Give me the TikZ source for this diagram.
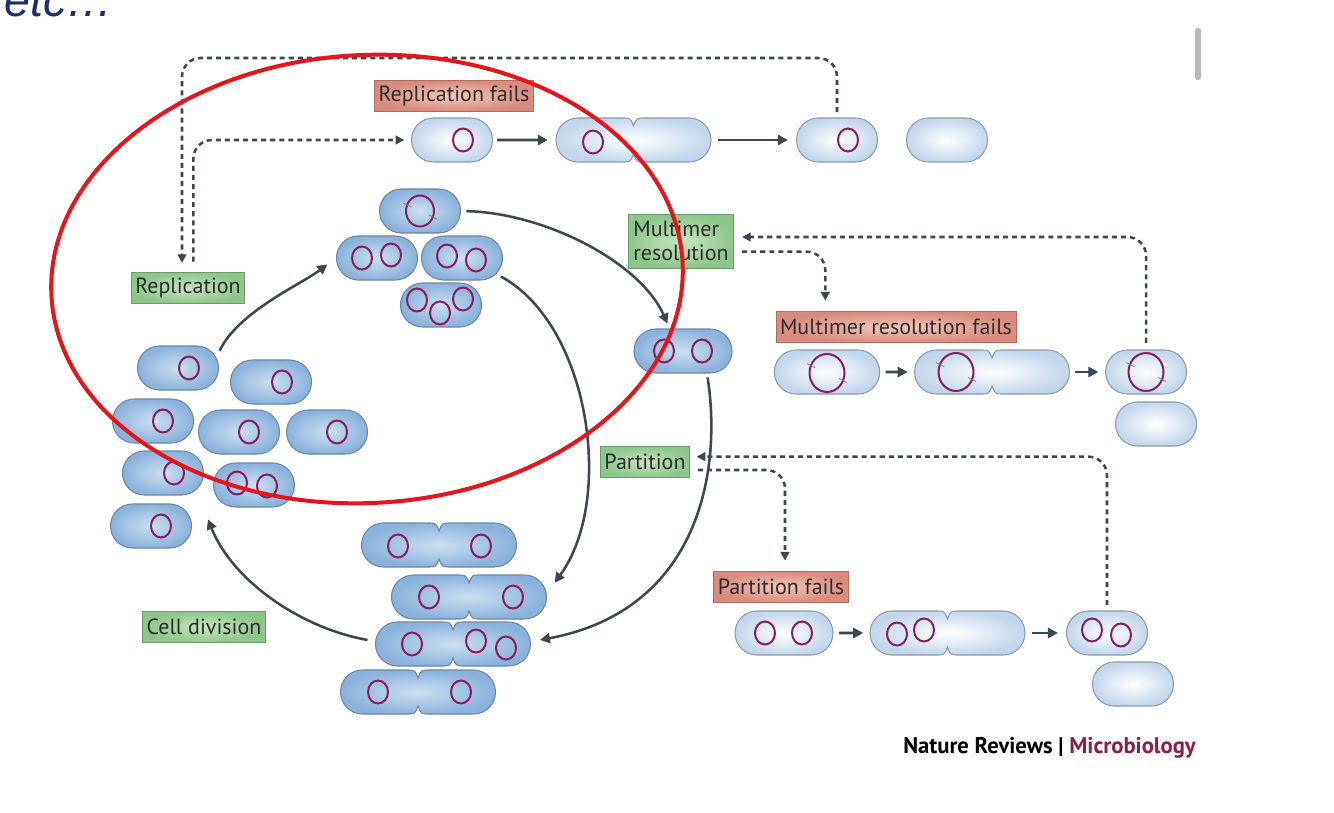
\documentclass[tikz,border=0pt]{standalone}
\usepackage{fontspec}
\setmainfont{PT Sans}
\newfontfamily\slidefont{Liberation Sans}
\usetikzlibrary{shapes.misc,arrows.meta}

\definecolor{cellout}{HTML}{8BB2DB}
\definecolor{cellin}{HTML}{CCE0F3}
\definecolor{cellline}{HTML}{6C87A3}
\definecolor{paleout}{HTML}{C3D7EC}
\definecolor{paleline}{HTML}{8D9BAA}
\definecolor{plas}{HTML}{8A1D5C}
\definecolor{arrc}{HTML}{394852}
\definecolor{gout}{HTML}{8DC68B}
\definecolor{gin}{HTML}{C9E5C3}
\definecolor{gline}{HTML}{6E9A6B}
\definecolor{rout}{HTML}{D98B7D}
\definecolor{rin}{HTML}{F4C8BA}
\definecolor{rline}{HTML}{AE6C5F}
\definecolor{labtext}{HTML}{2B2B2B}
\definecolor{journal}{HTML}{8C1D4F}
\definecolor{slideblue}{HTML}{1F2E6E}
\definecolor{markred}{HTML}{E8141B}

% dividing cell: name, x, y, look
\newcommand{\divcell}[4]{%
  \begin{scope}[shift={(#2,-#3)}]
    \shadedraw[#4] (0,14) .. controls (-3,22) .. (-12,22) -- (-55.5,22)
      arc[start angle=90,end angle=270,radius=22] -- (-12,-22)
      .. controls (-3,-22) .. (0,-14) .. controls (3,-22) .. (12,-22)
      -- (55.5,-22) arc[start angle=-90,end angle=90,radius=22]
      -- (12,22) .. controls (3,22) .. (0,14) -- cycle;
  \end{scope}
  \node[minimum width=116pt,minimum height=33pt,inner sep=0pt] (#1) at (#2,-#3) {};}

\begin{document}
\begin{tikzpicture}[x=0.75pt,y=0.75pt,
  dcell/.style={rounded rectangle,draw=cellline,line width=0.8pt,inner color=cellin,outer color=cellout,minimum width=60.75pt,minimum height=33pt,inner sep=0pt},
  lcell/.style={dcell,draw=paleline,inner color=white,outer color=paleout},
  dpath/.style={draw=cellline,line width=0.8pt,inner color=cellin,outer color=cellout},
  lpath/.style={draw=paleline,line width=0.8pt,inner color=white,outer color=paleout},
  plasmid/.style={draw=plas,line width=1.5pt},
  tick/.style={draw=gray,line width=0.6pt},
  lbl/.style={draw,line width=0.6pt,minimum height=23pt,inner xsep=3pt,inner ysep=2pt,text=labtext,font=\fontsize{16.5}{18}\selectfont},
  gbox/.style={lbl,draw=gline,inner color=gin,outer color=gout},
  rbox/.style={lbl,draw=rline,inner color=rin,outer color=rout},
  arr/.style={draw=arrc,line width=1.9pt,-{Triangle[length=7.5pt,width=7.5pt]}},
  dasharr/.style={draw=arrc,line width=1.9pt,dash pattern=on 3.8pt off 3pt,rounded corners=14pt,-{Triangle[length=6.5pt,width=6.5pt]}}]

\fill[white] (0,0) rectangle (1334,-813);
\useasboundingbox (0,0) rectangle (1334,-813);

% slide remains
\node[anchor=base west,inner sep=0pt,text=slideblue,font=\slidefont\itshape\fontsize{35}{40}\selectfont] (etc) at (4,-17) {etc…};
\fill[gray!55,rounded corners=2pt] (1195,-28) rectangle (1201,-80);

% labels
\node[rbox] (repfail) at (454,-96) {Replication fails};
\node[gbox] (rep) at (188,-288) {Replication};
\node[gbox,align=left,minimum width=79pt,minimum height=40.5pt,inner xsep=2pt] (mult) at (681,-241) {Multimer\\resolution};
\node[rbox] (multfail) at (896,-327) {Multimer resolution fails};
\node[gbox] (part) at (645,-462) {Partition};
\node[rbox] (partfail) at (781,-587) {Partition fails};
\node[gbox] (celldiv) at (204,-627) {Cell division};

% replication fails row
\node[lcell] (c1) at (452,-140) {};
\divcell{c2}{633.5}{140}{lpath}
\node[lcell] (c3) at (837,-140) {};
\node[lcell] (c4) at (947,-140) {};

% replicated cells
\node[dcell] (r1) at (420,-211) {};
\node[dcell] (r2) at (377,-258) {};
\node[dcell] (r3) at (462,-258) {};
\node[dcell] (r4) at (441,-305) {};
\node[dcell,minimum width=73.5pt] (m0) at (683,-351) {};

% multimer resolution fails row
\node[lcell,minimum width=79pt] (m1) at (827,-372) {};
\divcell{m2}{992}{372}{lpath}
\node[lcell] (m3) at (1146,-372) {};
\node[lcell] (m4) at (1156,-424) {};

% daughter cells
\foreach \n/\x/\y in {l1/178/368,l2/271/382,l3/153/421,l4/239/432,l5/327/432,l6/163/473,l7/254/485,l8/151/526}
  \node[dcell] (\n) at (\x,-\y) {};

% dividing cells
\divcell{b1}{439}{545}{dpath}
\divcell{b2}{469}{597}{dpath}
\divcell{b3}{453}{644}{dpath}
\divcell{b4}{418}{692}{dpath}

% partition fails row
\node[lcell,minimum width=73.5pt] (p1) at (784,-633) {};
\divcell{p2}{947.5}{633}{lpath}
\node[lcell] (p3) at (1107,-633) {};
\node[lcell] (p4) at (1133,-684) {};

% plasmids
\foreach \x/\y in {463/140,593/142,848/140,362/258,391/255,447/256,476/260,417/300,440/313,463/299,
  664/351,702/351,189/368,282/382,163/421,249/432,337/432,174/473,237/483,267/486,161/526,
  398/546,481/546,429/597,513/597,412/644,476/641,506/648,378/692,461/692,
  765/633,802/633,897/634,924/630,1092/630,1121/635}
  \draw[plasmid] (\x,-\y) ellipse[x radius=10,y radius=11.5];
\foreach \x/\y/\r in {420/211/14,827/373/17.5,956/372/17.5,1146/372/17.5} {
  \draw[plasmid] (\x,-\y) ellipse[x radius=\r,y radius=\r+1.5];
  \path (\x,-\y) ++(155:\r) coordinate (ta) (\x,-\y) ++(-25:\r) coordinate (tb);
  \draw[tick] ([shift={(-4,2)}]ta) -- ([shift={(4,-2)}]ta);
  \draw[tick] ([shift={(-4,2)}]tb) -- ([shift={(4,-2)}]tb);
}

% straight arrows
\draw[arr,shorten <=3pt,shorten >=6pt] (c1) -- (c2);
\draw[arr,shorten <=5pt,shorten >=6pt] (c2) -- (c3);
\draw[arr,shorten <=4pt,shorten >=5pt] (m1) -- (m2);
\draw[arr,shorten <=4pt,shorten >=5pt] (m2) -- (m3);
\draw[arr,shorten <=4pt,shorten >=5pt] (p1) -- (p2);
\draw[arr,shorten <=5pt,shorten >=6pt] (p2) -- (p3);

% cycle
\draw[arr,shorten <=1pt,shorten >=8pt] ([xshift=5pt]l1.25) .. controls (238,-312) and (300,-285) .. (r2.west);
\draw[arr,shorten <=4pt,shorten >=4pt] (r1.east) .. controls (545,-213) and (640,-262) .. ([xshift=-10pt]m0.north);
\draw[arr,shorten <=4pt] (r3.-25) .. controls (590,-325) and (615,-500) .. ([xshift=6pt,yshift=-6pt]b2.north east);
\draw[arr,shorten <=3pt] ([xshift=18pt]m0.south) .. controls (722,-470) and (700,-610) .. ([xshift=7pt,yshift=3pt]b3.east);
\draw[arr,shorten <=6pt] ([yshift=2pt]b3.west) .. controls (300,-628) and (232,-580) .. ([xshift=12pt,yshift=5pt]l8.east);

% failure loops
\draw[dasharr,shorten <=4pt] (c3.north) |- (182,-58) -- ([xshift=-4.5pt,yshift=7pt]rep.north);
\draw[dasharr] ([xshift=4pt,yshift=8pt]rep.north) |- ([xshift=-5pt]c1.west);
\draw[dasharr] ([xshift=6pt,yshift=-8pt]mult.east) -| ([xshift=-53pt,yshift=8pt]multfail.north);
\draw[dasharr,shorten <=5pt] (m3.north) |- ([xshift=6pt,yshift=3pt]mult.east);
\draw[dasharr,shorten <=4pt] (p3.north) |- ([xshift=5pt,yshift=4pt]part.east);
\draw[dasharr] ([xshift=6pt,yshift=-6pt]part.east) -| ([xshift=3pt,yshift=8pt]partfail.north);

% journal
\node[anchor=east,inner sep=0pt,font=\bfseries\fontsize{17}{20}\selectfont] (src) at (1196,-748) {Nature Reviews | \textcolor{journal}{Microbiology}};

% hand-drawn mark
\draw[markred,line width=3pt,rotate around={3:(367,-279)}] (367,-279) ellipse[x radius=316,y radius=224];
\end{tikzpicture}
\end{document}
